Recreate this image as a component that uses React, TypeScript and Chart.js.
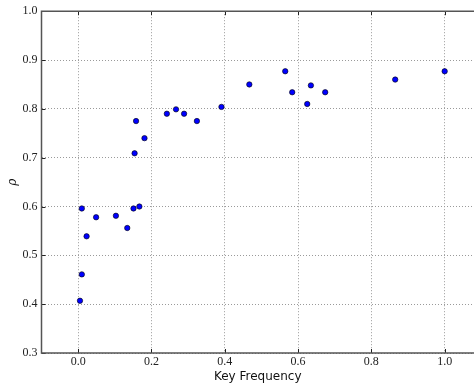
import React, { useEffect, useRef } from "react";
import { Chart, registerables } from "chart.js";

Chart.register(...registerables);

const keyFrequency = [
  0.005, 0.01, 0.01, 0.023, 0.049, 0.103, 0.134, 0.151, 0.154, 0.158, 0.167, 0.181,
  0.242, 0.267, 0.289, 0.324, 0.391, 0.467, 0.565, 0.584, 0.625, 0.635, 0.674, 0.865, 1.0,
];
const rho = [
  0.407, 0.461, 0.596, 0.539, 0.578, 0.581, 0.556, 0.596, 0.709, 0.775, 0.6, 0.74,
  0.79, 0.799, 0.79, 0.775, 0.804, 0.85, 0.877, 0.834, 0.81, 0.848, 0.834, 0.86, 0.877,
];
const xTicks = [0.0, 0.2, 0.4, 0.6, 0.8, 1.0];
const yTicks = [0.3, 0.4, 0.5, 0.6, 0.7, 0.8, 0.9, 1.0];
const xLabel = "Key Frequency";
const yLabel = "ρ";

const framePlugin = {
  id: "frame",
  afterDatasetsDraw(chart: any) {
    const { ctx, chartArea } = chart;
    const { left, right, top, bottom } = chartArea;
    const xs = chart.scales.x;
    const ys = chart.scales.y;
    ctx.save();
    ctx.strokeStyle = "#222";
    ctx.lineWidth = 1;
    ctx.beginPath();
    xTicks.forEach((v) => {
      const px = Math.round(xs.getPixelForValue(v)) + 0.5;
      ctx.moveTo(px, bottom);
      ctx.lineTo(px, bottom - 4);
      ctx.moveTo(px, top);
      ctx.lineTo(px, top + 4);
    });
    yTicks.forEach((v) => {
      const py = Math.round(ys.getPixelForValue(v)) + 0.5;
      ctx.moveTo(left, py);
      ctx.lineTo(left + 4, py);
    });
    ctx.stroke();
    ctx.strokeStyle = "#555";
    ctx.lineWidth = 1.5;
    ctx.beginPath();
    ctx.moveTo(right + 2, top);
    ctx.lineTo(left, top);
    ctx.lineTo(left, bottom);
    ctx.lineTo(right + 2, bottom);
    ctx.stroke();
    ctx.restore();
  },
};

export default function App() {
  const ref = useRef<HTMLCanvasElement>(null);
  useEffect(() => {
    if (!ref.current) return;
    const points = keyFrequency.map((x, i) => ({ x, y: rho[i] }));
    const tickFont = { family: "'Liberation Serif', 'DejaVu Serif', serif", size: 12 };
    const chart = new Chart(ref.current, {
      type: "scatter",
      data: {
        datasets: [
          {
            data: points,
            backgroundColor: "#0000ff",
            borderColor: "#000000",
            borderWidth: 0.6,
            pointRadius: 2.7,
          },
        ],
      },
      plugins: [framePlugin],
      options: {
        animation: false,
        responsive: false,
        devicePixelRatio: 1,
        layout: { autoPadding: false, padding: { top: 11, left: 0, right: 0, bottom: 0 } },
        plugins: { legend: { display: false }, tooltip: { enabled: false } },
        scales: {
          x: {
            type: "linear",
            min: -0.1,
            max: 1.08,
            afterBuildTicks: (s: any) => {
              s.ticks = xTicks.map((v) => ({ value: v }));
            },
            afterFit: (s: any) => {
              s.height = 34;
            },
            grid: { color: "#9a9a9a", lineWidth: 1, drawTicks: false },
            border: { display: false, dash: [1, 2] },
            ticks: {
              font: tickFont,
              color: "#222",
              padding: 2,
              maxRotation: 0,
              callback: (v: any) => Number(v).toFixed(1),
            },
            title: {
              display: true,
              text: xLabel,
              color: "#111",
              font: { family: "'DejaVu Sans', sans-serif", size: 12 },
              padding: { top: 0, bottom: 3 },
            },
          },
          y: {
            type: "linear",
            min: 0.3,
            max: 1.0,
            afterBuildTicks: (s: any) => {
              s.ticks = yTicks.map((v) => ({ value: v }));
            },
            afterFit: (s: any) => {
              s.width = 41.5;
            },
            grid: { color: "#9a9a9a", lineWidth: 1, drawTicks: false },
            border: { display: false, dash: [1, 2] },
            ticks: {
              font: tickFont,
              color: "#222",
              padding: 4,
              callback: (v: any) => Number(v).toFixed(1),
            },
            title: {
              display: true,
              text: yLabel,
              color: "#111",
              font: { family: "'DejaVu Serif', serif", size: 12, style: "italic" },
              padding: { top: 6, bottom: 0 },
            },
          },
        },
      },
    });
    return () => chart.destroy();
  }, []);
  return (
    <div
      style={{
        position: "fixed",
        left: 0,
        top: 0,
        width: 474,
        height: 387,
        background: "#fff",
      }}
    >
      <canvas ref={ref} width={474} height={387} style={{ display: "block" }} />
    </div>
  );
}
